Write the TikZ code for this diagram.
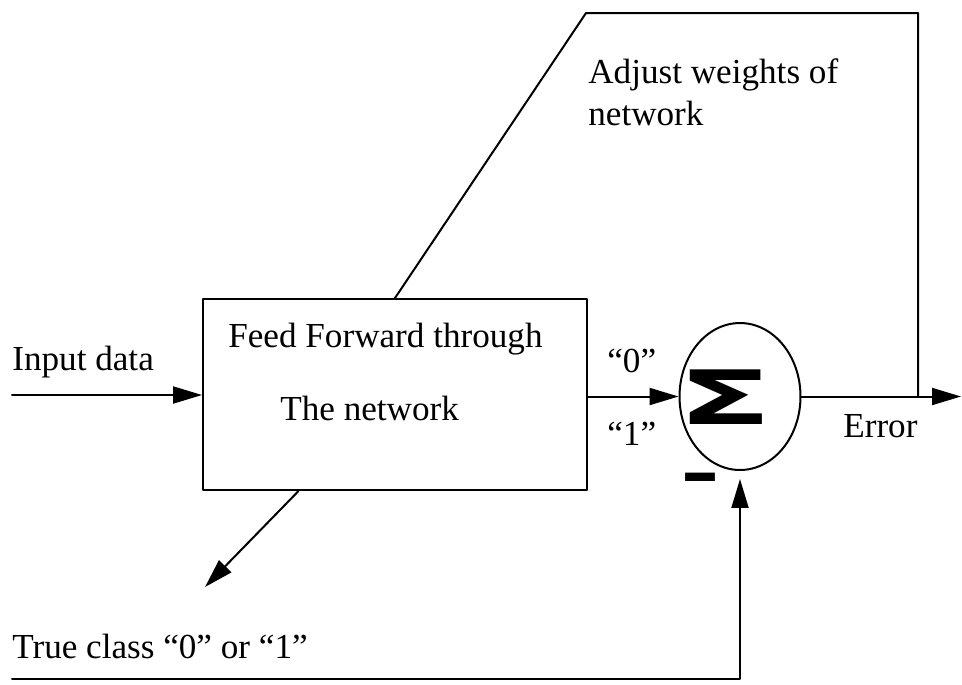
\documentclass[tikz,border=0pt]{standalone}
\usepackage{fontspec}
\setmainfont{Liberation Serif}
\newfontfamily\sigmafont{DejaVu Sans}
\usetikzlibrary{arrows.meta,shapes.geometric,calc}

\begin{document}
\begin{tikzpicture}[line cap=round,line join=round,>={Triangle[length=0.58cm,width=0.34cm]},x=0.02cm,y=-0.02cm,
  every node/.style={font=\fontsize{20}{24}\selectfont},
  lbl/.style={anchor=base west,inner sep=0pt},
  wire/.style={line width=0.04cm}]
\useasboundingbox (0,0) rectangle (962,684);
% blocks
\node[draw,wire,minimum width=7.68cm,minimum height=3.82cm,inner sep=0pt] (box) at (395,394.5) {};
\node[draw,wire,ellipse,minimum width=2.42cm,minimum height=2.94cm,inner sep=0pt] (sum) at (740,396.5) {};
\node[font=\sigmafont\bfseries\fontsize{44}{44}\selectfont,inner sep=0pt] (sigma) at (725,397) {\scalebox{1.8}[0.97]{Σ}};
\node[font=\sigmafont\bfseries\fontsize{27}{27}\selectfont,inner sep=0pt] (minus) at (700,484) {\scalebox{1.6}[1.4]{–}};
% labels
\node[lbl] (inp) at (12,370) {Input data};
\node[lbl] (ff1) at (228,347) {Feed Forward through};
\node[lbl] (ff2) at (280,420) {The network};
\node[lbl] (q0) at (607,372) {“0”};
\node[lbl] (q1) at (607,445) {“1”};
\node[lbl] (err) at (843,437) {Error};
\node[lbl] (adj1) at (588,83) {Adjust weights of};
\node[lbl] (adj2) at (588,125) {network};
\node[lbl] (tcl) at (12,658) {True class “0” or “1”};
% free ends
\coordinate (src) at (12,395);
\coordinate (out) at (961,396.5);
\coordinate (fb) at (918,396.5);
\coordinate (tl) at (586,13);
\coordinate (tc) at (205,587);
\coordinate (tr) at (12,679);
% connectors
\draw[wire,->] (src) -- (src -| box.west);
\draw[wire,->] (box.east |- sum.west) -- (sum.west);
\draw[wire,->] (sum.east) -- (out);
\draw[wire] (fb) |- (tl) -- (box.north);
\draw[wire,->] ($(box.south west)!0.25!(box.south east)$) -- (tc);
\draw[wire,->,shorten >=0.16cm] (tr) -| (sum.south);
\end{tikzpicture}
\end{document}
